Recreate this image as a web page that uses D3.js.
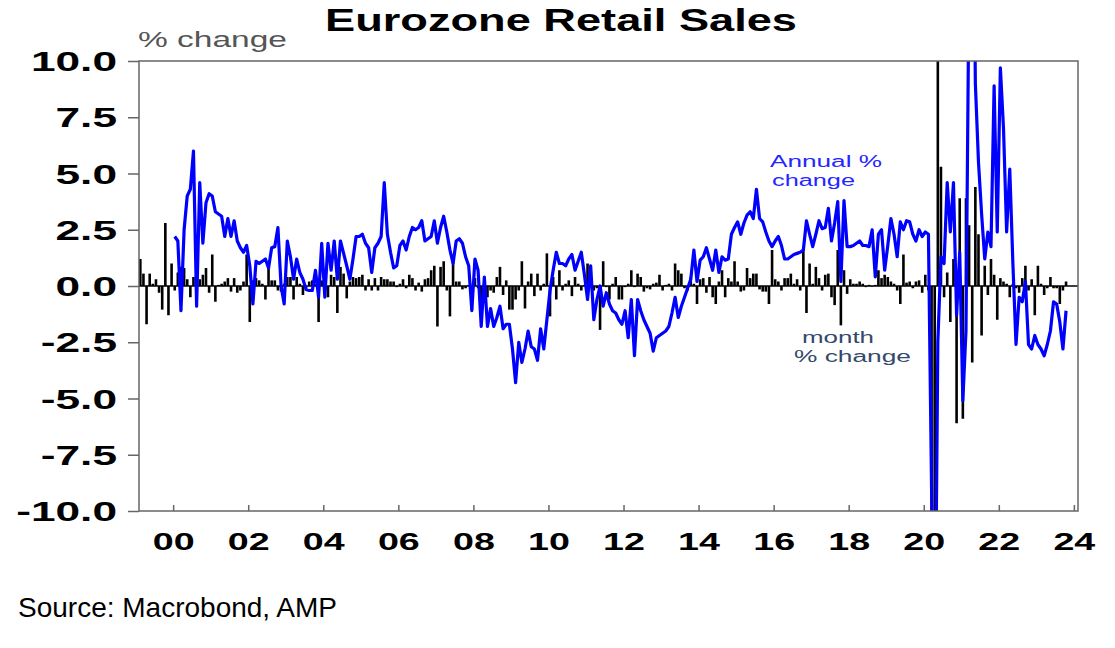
<!DOCTYPE html>
<html>
<head>
<meta charset="utf-8">
<script src="https://cdn.jsdelivr.net/npm/d3@7"></script>
<style>
  body { margin: 0; background: #fff; }
  svg { font-family: "Liberation Sans", Arial, sans-serif; }
</style>
</head>
<body>
<svg id="chart" width="1115" height="648"></svg>
<script>
// monthly series start points [year, month index]
const monthStart = [1999, 0];
const annualStart = [2000, 0];

// month % change, Jan 1999 .. Oct 2023 (black bars)
const monthChange = [
  0.3, 1.2, 0.55, -1.7, 0.55, 0.1, 0.3, -0.3, -1.05, 2.8, -1.3, 1.0,
  -0.2, 0.6, 0.85, 0.8, 0.3, -0.5, 0.4, 0.4, 0.3, 0.5, 0.8, -0.3,
  1.4, -0.7, 0.05, 0.1, 0.2, 0.35, -0.25, 0.35, -0.3, -0.2, 0.2, 1.4,
  -1.6, 0.25, 0.35, 0.25, 0.1, -0.6, 0.8, 0.25, 0.25, -0.2, -0.25, 0.1,
  0.4, 0.4, -0.6, 0.4, 0.1, -0.4, -0.2, 0.2, 0.25, 0.1, -1.6, 0.25,
  0.5, -0.5, 0.5, 0.4, -1.2, 0.85, 0.55, -0.55, 0.2, 0.4, 0.35, 0.4,
  0.5, -0.2, 0.3, -0.2, 0.35, -0.2, 0.4, 0.3, 0.3, 0.2, 0.2, -0.05,
  0.1, 0.3, -0.1, 0.5, 0.35, -0.2, 0.15, -0.25, 0.3, 0.35, 0.7, 0.9,
  -1.8, 0.85, 1.1, -0.2, -1.35, 1.1, 0.2, 0.2, -0.15, -0.1, 0.05, -1.05,
  0.35, -0.1, -0.6, -0.1, -0.5, -0.2, -0.3, 0.4, 0.85, -0.4, 0.25, -1.05,
  -1.05, -0.6, -0.2, 1.1, -1.0, 0.2, 0.55, -0.45, 0.55, -0.2, 0.1, 1.45,
  -1.35, 0.4, -0.6, 0.7, -0.2, 0.1, 0.25, -0.45, 0.4, 0.1, -0.2, 0.05,
  1.0, 0.4, -0.2, -0.1, -1.95, 1.1, -0.05, -0.6, 0.1, 0.4, -0.6, -0.6,
  -0.05, 0.1, 0.7, -0.05, 0.55, 0.4, -0.25, -0.1, -0.15, 0.1, 0.15, 0.5,
  -0.2, 0.05, 0.1, -0.2, 1.0, 0.7, 0.55, -0.1, -0.2, 0.4, 0.1, -0.8,
  0.3, 0.35, -0.3, 0.4, -0.5, -0.8, 0.2, 0.7, -0.5, 0.35, 0.2, 1.1,
  0.2, -0.25, -0.2, 0.8, 0.35, 0.55, 0.55, -0.15, -0.25, -0.25, -0.8, 1.6,
  0.3, 0.2, -0.2, 0.35, 0.35, 0.55, 0.1, 0.3, -0.2, 1.6, -1.2, 1.0,
  0.1, 0.85, 0.35, -0.2, 0.5, 0.55, -0.5, -0.85, 1.6, -1.75, 0.7, -0.35,
  0.3, 0.1, 0.1, 0.2, 0.1, -0.05, 0.05, -0.03, 0.05, 0.7, 0.35, 0.5,
  0.4, 0.2, 0.1, -0.2, -0.8, 1.4, 0.15, 0.2, -0.1, 0.2, 0.25, -0.3,
  0.5, -0.2, -10.4, -11.7, 20.0, 5.3, -0.5, 0.6, -1.6, 1.2, -6.1, 3.9,
  -5.9, 3.9, 2.7, -3.4, 4.4, 2.3, -2.2, 0.9, -0.4, 1.2, 0.5, -1.5,
  0.35, 0.2, 0.1, -0.5, 0.1, -0.1, -0.3, 0.35, 0.9, -0.2, 0.3, -1.3,
  0.9, 0.1, -0.4, -0.1, 0.4, -0.1, -0.1, -0.8, -0.2, 0.2
];

// annual % change, Jan 2000 .. Oct 2023 (blue line)
const annualChange = [
  2.2, 2.0, -1.1, 2.5, 4.0, 4.3, 6.0, -0.9, 4.6, 1.9, 3.7, 4.1,
  4.0, 3.3, 3.2, 3.1, 2.2, 3.0, 2.2, 2.9, 2.0, 1.7, 1.5, 1.8,
  0.9, -0.8, 1.1, 1.0, 1.1, 1.2, 0.8, 1.7, 1.75, 2.6, 0.0, -0.8,
  2.0, 1.3, 0.3, 1.2, 0.6, 0.3, -0.15, -0.2, -0.2, 0.7, -0.5, 1.9,
  -0.5, 1.9, 0.7, 2.0, 0.3, 2.0, 1.45, 0.9, 0.3, 1.2, 2.2, 2.2,
  2.3, 1.9, 1.7, 0.6, 1.7, 1.9, 2.2, 4.6, 2.3, 1.5, 0.8, 0.9,
  1.8, 2.0, 1.6, 2.2, 2.6, 2.5, 2.6, 2.9, 2.0, 2.1, 2.2, 2.9,
  1.9, 2.6, 3.1, 2.4, 1.6, 1.0, 2.0, 2.1, 1.9, 1.3, 0.9, -1.1,
  1.2, 0.7, -1.8, 0.4, -1.8, -1.0, -1.8, -1.4, -0.9, -1.9, -1.7, -1.7,
  -2.8, -4.3, -2.5, -3.4, -2.8, -2.0, -2.7, -2.8, -3.3, -1.9, -2.8, -1.5,
  -0.2, 0.7, 1.5, 1.0, 1.0, 0.9, 1.2, 1.4, 0.7, 1.1, 1.5, 0.5,
  -0.6, 0.9, -1.5, -0.6, 0.0, -0.9, -0.3, -0.8, -1.1, -1.2, -1.5, -1.7,
  -1.1, -2.3, -0.6, -3.1, -0.6, -1.1, -1.5, -1.8, -2.1, -2.9, -2.3, -2.2,
  -2.1, -2.0, -1.8, -1.2, -0.5, -1.4, -0.9, -0.5, -0.1, 0.3, 1.6, 0.2,
  1.15, 1.3, 1.7, 1.2, 0.7, 1.6, 0.6, 1.3, 1.15, 1.2, 2.3, 2.6,
  2.85, 2.3, 2.8, 3.15, 3.3, 3.0, 4.3, 3.0, 2.85, 2.4, 2.0, 1.75,
  2.0, 2.2, 1.8, 1.2, 1.2, 1.3, 1.4, 1.45, 1.5, 1.6, 2.9, 2.3,
  1.75, 2.3, 2.9, 2.55, 2.6, 3.45, 2.0, 2.8, 3.75, 0.2, 3.8, 1.75,
  1.75, 1.8, 1.9, 2.0, 1.8, 1.8, 1.75, 2.5, 0.4, 2.3, 2.5, 0.7,
  1.8, 3.0, 2.3, 1.3, 2.85, 2.5, 2.9, 2.85, 2.3, 2.0, 2.5, 2.2,
  2.4, 2.3, -9.0, -19.0, -2.5, 1.3, 1.0, 4.6, 2.4, 4.6, -1.3, 1.5,
  -5.1, -2.0, 14.0, 24.0, 9.0, 5.5, 3.2, 1.2, 2.4, 1.75, 8.9, 2.4,
  9.7, 7.0, 2.4, 5.2, 1.0, -2.6, -0.5, -0.7, 0.2, -2.6, -2.8, -2.2,
  -2.6, -2.8, -3.1, -2.6, -2.0, -0.7, -0.8, -1.6, -2.8, -1.1
];

const yearTicks = [2000, 2002, 2004, 2006, 2008, 2010, 2012, 2014, 2016, 2018, 2020, 2022, 2024];
const yTicks = [-10, -7.5, -5, -2.5, 0, 2.5, 5, 7.5, 10];

const svg = d3.select("#chart");
const plot = { left: 139, right: 1078, top: 61, bottom: 511 };

const x = d3.scaleLinear().domain([1999.09, 2024.11]).range([plot.left, plot.right]);
const y = d3.scaleLinear().domain([-10, 10]).range([plot.bottom, plot.top]);

// mid-month position in decimal years
function toYear(start, i) {
  return start[0] + (start[1] + i + 0.5) / 12;
}

const monthData = monthChange.map((v, i) => ({ t: toYear(monthStart, i), v: v }));
const annualData = annualChange.map((v, i) => ({ t: toYear(annualStart, i), v: v }));

svg.append("defs").append("clipPath")
  .attr("id", "plotClip")
  .append("rect")
  .attr("x", plot.left)
  .attr("y", plot.top)
  .attr("width", plot.right - plot.left)
  .attr("height", plot.bottom - plot.top);

const inner = svg.append("g").attr("clip-path", "url(#plotClip)");

// month % change bars
inner.append("g")
  .selectAll("rect")
  .data(monthData)
  .enter()
  .append("rect")
  .attr("x", d => x(d.t) - 1.3)
  .attr("width", 2.6)
  .attr("y", d => y(Math.max(0, d.v)))
  .attr("height", d => Math.abs(y(d.v) - y(0)))
  .attr("fill", "#000");

// zero line
inner.append("line")
  .attr("x1", plot.left)
  .attr("x2", plot.right)
  .attr("y1", y(0))
  .attr("y2", y(0))
  .attr("stroke", "#000")
  .attr("stroke-width", 1.3);

// annual % change line
const line = d3.line()
  .x(d => x(d.t))
  .y(d => y(d.v));

inner.append("path")
  .datum(annualData)
  .attr("d", line)
  .attr("fill", "none")
  .attr("stroke", "#0000ff")
  .attr("stroke-width", 3.2)
  .attr("stroke-linejoin", "round");

// frame
svg.append("rect")
  .attr("x", plot.left)
  .attr("y", plot.top)
  .attr("width", plot.right - plot.left)
  .attr("height", plot.bottom - plot.top)
  .attr("fill", "none")
  .attr("stroke", "#666")
  .attr("stroke-width", 1.5);

// y axis
const yAxis = svg.append("g")
  .attr("transform", `translate(${plot.left},0)`)
  .call(d3.axisLeft(y).tickValues(yTicks).tickSize(11).tickFormat(d => d.toFixed(1)));
yAxis.select(".domain").remove();
yAxis.selectAll(".tick line").attr("stroke", "#666").attr("stroke-width", 1.5);
yAxis.selectAll(".tick text")
  .attr("x", 0)
  .attr("dy", "0.34em")
  .attr("transform", "translate(-22,0) scale(1.58,1)")
  .style("font-size", "28px")
  .style("font-weight", "bold")
  .style("font-family", "'Liberation Sans', Arial, sans-serif")
  .attr("fill", "#000");

// x axis
const xAxis = svg.append("g")
  .attr("transform", `translate(0,${plot.bottom})`)
  .call(d3.axisBottom(x).tickValues(yearTicks).tickSizeInner(-6).tickSizeOuter(0)
    .tickFormat(d => String(d % 100).padStart(2, "0")));
xAxis.select(".domain").remove();
xAxis.selectAll(".tick line").attr("stroke", "#666").attr("stroke-width", 1.5);
xAxis.selectAll(".tick text")
  .attr("y", 0)
  .attr("dy", 0)
  .attr("transform", "translate(0,39) scale(1.57,1)")
  .style("font-size", "24px")
  .style("font-weight", "bold")
  .style("font-family", "'Liberation Sans', Arial, sans-serif")
  .attr("fill", "#000");

// texts
function label(txt, px, py, size, weight, color, len) {
  svg.append("text")
    .attr("x", px)
    .attr("y", py)
    .attr("textLength", len)
    .attr("lengthAdjust", "spacingAndGlyphs")
    .style("font-size", size + "px")
    .style("font-weight", weight)
    .attr("fill", color)
    .text(txt);
}

label("Eurozone Retail Sales", 325, 31, 32, "bold", "#000", 472);
label("% change", 138, 47, 22, "normal", "#555", 149);
label("Annual %", 770, 167, 16, "normal", "#2626ff", 112);
label("change", 772, 186, 16, "normal", "#2626ff", 83);
label("month", 802, 343, 16, "normal", "#34496a", 72);
label("% change", 794, 362, 16, "normal", "#34496a", 117);

svg.append("text")
  .attr("x", 18)
  .attr("y", 617)
  .style("font-size", "28px")
  .attr("fill", "#000")
  .text("Source: Macrobond, AMP");
</script>
</body>
</html>
